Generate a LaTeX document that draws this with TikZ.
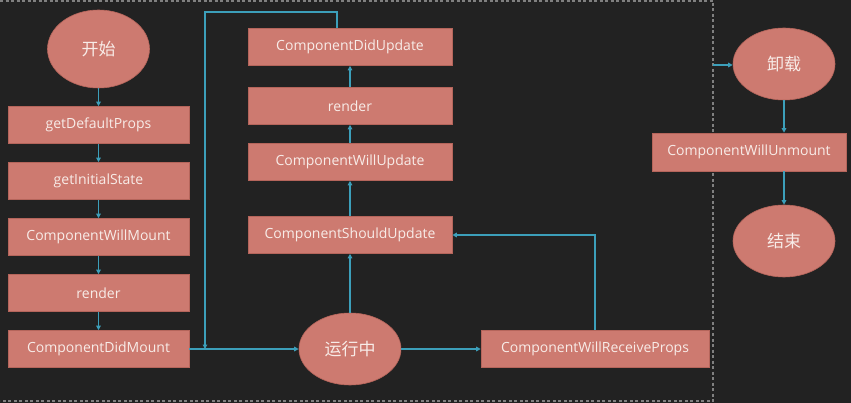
\documentclass[tikz,border=0pt]{standalone}
\usepackage{fontspec}
\setmainfont{Open Sans}
\newfontfamily\cjk{Noto Sans CJK SC}
\usetikzlibrary{shapes.geometric,arrows.meta,calc}
\definecolor{bg}{HTML}{222222}
\definecolor{boxfill}{HTML}{CD7A70}
\definecolor{boxline}{HTML}{B5655B}
\definecolor{txt}{HTML}{F8ECE8}
\definecolor{linkc}{HTML}{3C9FBA}
\definecolor{dashc}{HTML}{808080}
\begin{document}
\begin{tikzpicture}[x=1pt,y=-1pt,
  box/.style={draw=boxline, line width=0.6pt, fill=boxfill, text=txt, minimum height=37pt, inner sep=0pt, font=\fontsize{14}{17}\selectfont},
  oval/.style={ellipse, draw=boxline, line width=0.6pt, fill=boxfill, text=txt, inner sep=0pt, minimum width=102pt, minimum height=72pt, font=\cjk\fontsize{17}{20}\selectfont},
  link/.style={draw=linkc, line width=1.2pt, -{Triangle[length=4.5pt,width=4.5pt]}},
  frame/.style={draw=dashc, line width=1.2pt, dash pattern=on 3pt off 2.5pt}]
\fill[bg] (0,0) rectangle (851,403);
\useasboundingbox (0,0) rectangle (851,403);
\draw[frame] (0,1) -- (713,1) -- (713,401) -- (0,401);

% left column
\node[oval, minimum height=78pt] (start) at (98.5,49) {开始};
\node[box, minimum width=181pt] (gdp) at (98.5,125) {getDefaultProps};
\node[box, minimum width=181pt] (gis) at (98.5,181) {getInitialState};
\node[box, minimum width=181pt] (cwm) at (98.5,237) {ComponentWillMount};
\node[box, minimum width=181pt] (ra) at (98.5,293) {render};
\node[box, minimum width=181pt] (cdm) at (98.5,349) {ComponentDidMount};

% middle column
\node[box, minimum width=204pt] (cdu) at (350,47) {ComponentDidUpdate};
\node[box, minimum width=204pt] (rb) at (350,106) {render};
\node[box, minimum width=204pt] (cwu) at (350,162) {ComponentWillUpdate};
\node[box, minimum width=204pt] (csu) at (350,235) {ComponentShouldUpdate};
\node[oval] (run) at (350,349) {运行中};
\node[box, minimum width=228pt] (wrp) at (595,349) {ComponentWillReceiveProps};

% right column
\node[oval] (xz) at (784,64) {卸载};
\node[box, minimum width=194pt, minimum height=38pt] (um) at (749,152) {ComponentWillUnmount};
\node[oval] (fin) at (784,241) {结束};

% connectors
\draw[link] (start.south) -- (gdp.north);
\draw[link] (gdp.south) -- (gis.north);
\draw[link] (gis.south) -- (cwm.north);
\draw[link] (cwm.south) -- (ra.north);
\draw[link] (ra.south) -- (cdm.north);
\draw[link] (cdm.east) -- (run.west);
\coordinate (lt) at (205,12);
\coordinate (lb) at (205,349);
\draw[link] ([xshift=-13pt]cdu.north) |- (lt) -- (lb);
\draw[link] (run.north) -- (csu.south);
\draw[link] (csu.north) -- (cwu.south);
\draw[link] (cwu.north) -- (rb.south);
\draw[link] (rb.north) -- (cdu.south);
\draw[link] (run.east) -- (wrp.west);
\draw[link] (wrp.north) |- (csu.east);
\coordinate (ent) at (713,65);
\draw[link] (ent) -- (ent -| xz.west);
\draw[link] (xz.south) -- (xz.south |- um.north);
\draw[link] (xz.south |- um.south) -- (fin.north);
\end{tikzpicture}
\end{document}
